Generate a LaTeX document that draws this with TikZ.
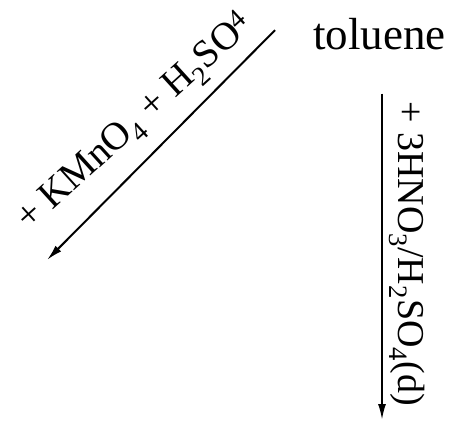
\documentclass[tikz,border=0pt]{standalone}
\usepackage{fontspec}
\setmainfont{Liberation Serif}
\usetikzlibrary{arrows.meta}
\tikzset{
  rxn/.style={line width=2pt,-{Latex[length=16pt,width=8pt]}},
  cond/.style={font=\fontsize{38}{44}\selectfont,sloped,above=6pt,inner sep=0pt},
}
\begin{document}
\begin{tikzpicture}[x=1pt,y=1pt]
\path[use as bounding box] (0,0) rectangle (461,432);
\node[anchor=base,inner sep=0pt,font=\fontsize{45}{54}\selectfont] (tol) at (379.5,382) {toluene};
\coordinate (oxi) at (47,172);
\coordinate (nitro) at (382,12);
% oxidation to the left, nitration downwards
\draw[rxn] ([shift={(-38,4.5)}]tol.west) -- node[cond,pos=0.51,above=8pt,rotate=-3,font=\fontsize{39}{45}\selectfont] (oxlbl) {+ KMnO\textsubscript{4} + H\textsubscript{2}SO\textsuperscript{4}} (oxi);
\draw[rxn] ([shift={(2.5,-43)}]tol.south) -- node[cond,pos=0.49] (nilbl) {+ 3HNO\textsubscript{3}/H\textsubscript{2}SO\textsubscript{4}(d)} (nitro);
\end{tikzpicture}
\end{document}
